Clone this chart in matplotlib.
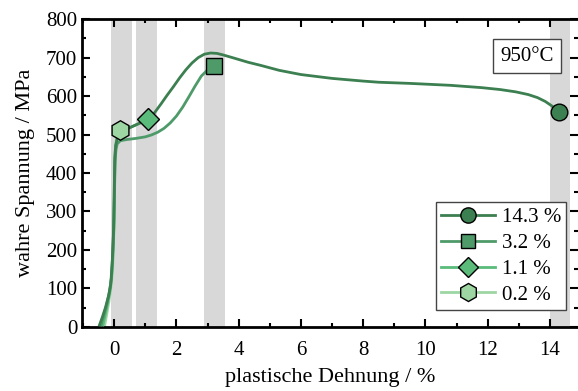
import numpy as np
import matplotlib.pyplot as plt
from matplotlib.ticker import MultipleLocator

plt.rcParams['font.family'] = ['Liberation Serif', 'DejaVu Serif']

label_size = 16
tick_size = 15

# plastic strain (%) / true stress (MPa) for the interrupted tests
eps_143 = [-0.47, -0.38, -0.28, -0.18, -0.11, -0.06, -0.02, 0.0, 0.02, 0.05, 0.1, 0.2, 0.45,
           0.75, 1.1, 1.3, 1.5, 1.7, 1.9, 2.1, 2.3, 2.5, 2.7, 2.9, 3.1, 3.3, 3.5, 3.8, 4.3,
           4.7, 5.3, 6.0, 7.0, 8.0, 8.5, 9.5, 10.8, 11.8, 12.4, 12.9, 13.3, 13.6, 13.85,
           14.05, 14.3]
sig_143 = [5, 25, 50, 80, 110, 170, 250, 340, 440, 472, 490, 505, 516,
           527, 540, 557, 579, 602, 624, 647, 668, 686, 700, 709, 712, 711, 707, 700, 688,
           680, 667, 656, 646, 639, 636, 633, 628, 622, 617, 611, 604, 596, 586,
           575, 558]

eps_32 = [-0.42, -0.34, -0.25, -0.16, -0.09, -0.05, -0.01, 0.01, 0.03, 0.06, 0.1, 0.2, 0.4,
          0.7, 1.0, 1.2, 1.4, 1.6, 1.8, 2.0, 2.2, 2.4, 2.6, 2.8, 3.0, 3.2]
sig_32 = [5, 28, 55, 88, 125, 185, 260, 345, 430, 462, 476, 484, 487,
          490, 494, 499, 506, 516, 530, 548, 571, 598, 626, 652, 668, 678]

eps_11 = [-0.36, -0.29, -0.21, -0.13, -0.07, -0.03, 0.0, 0.01, 0.03, 0.06, 0.1, 0.2, 0.45,
          0.75, 1.1]
sig_11 = [5, 30, 60, 95, 140, 200, 280, 370, 440, 472, 490, 505, 516, 527, 540]

eps_02 = [-0.3, -0.24, -0.17, -0.1, -0.05, -0.02, 0.0, 0.01, 0.03, 0.06, 0.1, 0.2]
sig_02 = [5, 32, 65, 105, 150, 215, 300, 380, 450, 480, 496, 512]

labels = ["14.3 %", "3.2 %", "1.1 %", "0.2 %"]
colors = ["#3c7f50", "#4e9a69", "#5abb7b", "#9dd6a2"]
markers = ["o", "s", "D", "h"]
msizes = [12, 11, 11, 14]

# grey bands around the interruption points
bands = [(-0.1, 0.57), (0.71, 1.37), (2.89, 3.55), (14.0, 14.65)]

fig = plt.figure(figsize=(5.78, 3.91), dpi=100)
ax = fig.add_axes([0.142, 0.164, 0.858, 0.787])

for lo, hi in bands:
    ax.axvspan(lo, hi, color="#d8d8d8", lw=0, zorder=0)

curves = [(eps_143, sig_143), (eps_32, sig_32), (eps_11, sig_11), (eps_02, sig_02)]
# draw lightest first so darker curve stays on top
for i in [3, 2, 1, 0]:
    x, y = curves[i]
    ax.plot(x, y, color=colors[i], lw=2, zorder=2 + (3 - i))
for i in range(4):
    x, y = curves[i]
    ax.plot(x[-1], y[-1], marker=markers[i], ms=msizes[i], mfc=colors[i], mec="black",
            mew=1, ls="none", zorder=10)

handles = [plt.Line2D([], [], color=colors[i], lw=2, marker=markers[i], ms=msizes[i] - 1,
                      mfc=colors[i], mec="black", mew=1) for i in range(4)]
leg = ax.legend(handles, labels, loc="lower right", bbox_to_anchor=(0.976, 0.055),
                fontsize=tick_size, handlelength=2.6, labelspacing=0.3,
                handletextpad=0.3, borderpad=0.25, fancybox=False, framealpha=1,
                edgecolor="#444444", borderaxespad=0)
leg.get_frame().set_linewidth(1)

ax.text(0.897, 0.88, "950°C", transform=ax.transAxes, fontsize=tick_size,
        ha="center", va="center",
        bbox=dict(boxstyle="square,pad=0.35", fc="white", ec="#444444", lw=1))

ax.set_xlim(-1.03, 14.9)
ax.set_ylim(0, 800)
ax.xaxis.set_major_locator(MultipleLocator(2))
ax.xaxis.set_minor_locator(MultipleLocator(1))
ax.yaxis.set_major_locator(MultipleLocator(100))
ax.yaxis.set_minor_locator(MultipleLocator(50))
ax.tick_params(which="both", direction="in", top=True, right=True, width=1.5,
               labelsize=tick_size)
ax.tick_params(which="major", length=6)
ax.tick_params(which="minor", length=3)
ax.tick_params(axis="x", pad=10)
for side in ["left", "bottom", "top"]:
    ax.spines[side].set_linewidth(2)
ax.spines["right"].set_visible(False)

ax.set_xlabel("plastische Dehnung / %", fontsize=label_size, labelpad=6)
ax.set_ylabel("wahre Spannung / MPa", fontsize=label_size, labelpad=8)

fig.savefig("out.png", dpi=100)
